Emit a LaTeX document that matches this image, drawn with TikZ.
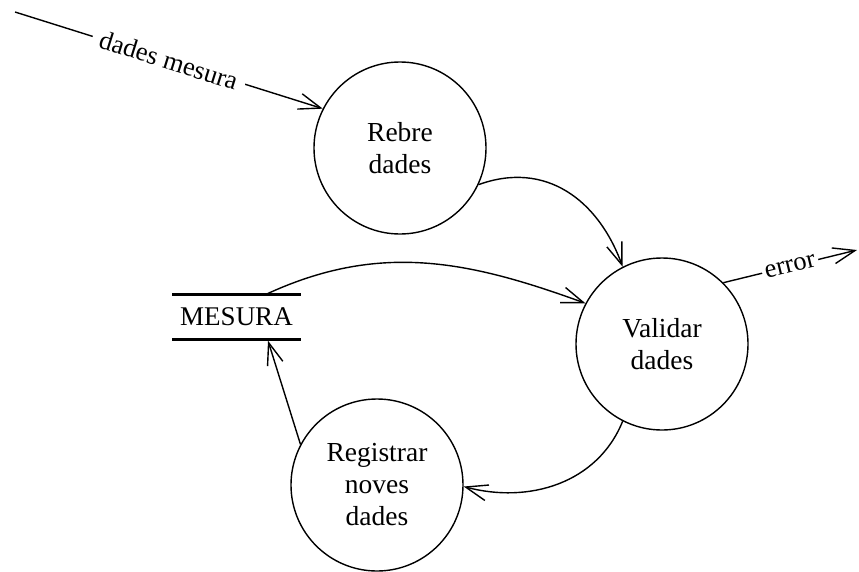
\documentclass[tikz,border=0pt]{standalone}
\usepackage{fontspec}
\setmainfont{Liberation Serif}
\usetikzlibrary{arrows.meta}
\tikzset{
  proc/.style={circle, draw, line width=1.4pt, minimum size=172pt, inner sep=0pt, align=center,
               font=\fontsize{27.5}{32}\selectfont},
  storetext/.style={minimum width=128pt, minimum height=44pt, inner sep=0pt,
               font=\fontsize{27}{30}\selectfont},
  storeline/.style={line width=3pt},
  flow/.style={line width=1.4pt, -{Straight Barb[length=22pt,width=16pt]}},
  flowlabel/.style={sloped, fill=white, inner sep=4pt, font=\fontsize{26.5}{30}\selectfont}
}
\begin{document}
\begin{tikzpicture}[x=1pt,y=-1pt]
\useasboundingbox (0,0) rectangle (859,571);
\fill[white] (0,0) rectangle (859,571);

\node[proc] (rebre) at (400,148) {Rebre\\dades};
\node[proc] (validar) at (662,344) {Validar\\dades};
\node[proc] (registrar) at (377,485) {Registrar\\noves\\dades};
\node[storetext] (mesura) at (236.5,317) {MESURA};
\draw[storeline] (mesura.north west) -- (mesura.north east);
\draw[storeline] (mesura.south west) -- (mesura.south east);

\coordinate (src) at (15,12);
\coordinate (sink) at (857,250);
\coordinate (mtop) at ([xshift=28.5pt]mesura.north);
\coordinate (mbot) at ([xshift=31.5pt,yshift=-1.5pt]mesura.south);

\draw[flow] (src) -- node[flowlabel, inner sep=8pt] {dades mesura} (rebre.153);
\draw[flow] (rebre.-25) to[out=20,in=110,looseness=1.1] (validar.117);
\draw[flow] (mtop) to[out=25,in=160] (validar.152);
\draw[flow] (validar.45) -- node[flowlabel, inner sep=3pt] {error} (sink);
\draw[flow] (validar.-117) to[out=-112,in=-15] (registrar.-1);
\draw[flow] (registrar.152) -- (mbot);
\end{tikzpicture}
\end{document}
